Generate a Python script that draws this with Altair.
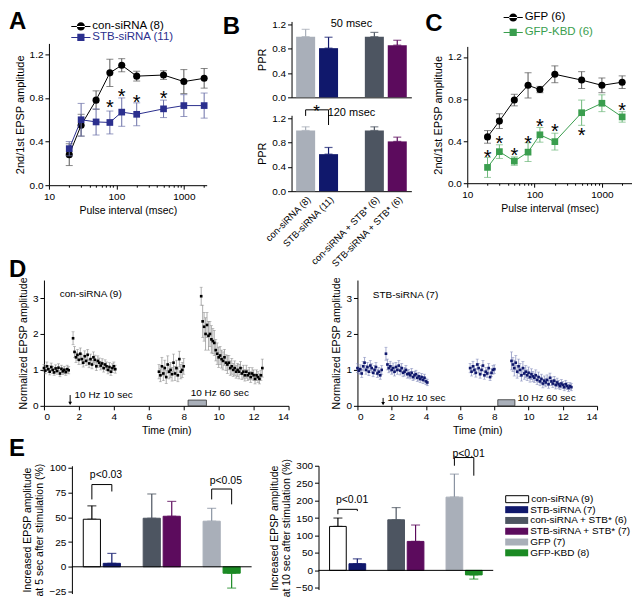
import altair as alt
import pandas as pd

FONT = "Liberation Sans"
NAVY = "#10186C"
NAVY_A = "#2B2F8E"
SLATE = "#4D5561"
PURPLE = "#5C0B5D"
LIGHT = "#A9AFB9"
GREEN_C = "#3A9E4E"
GREEN_E = "#1B8A24"

# ---------------- Panel A ----------------
pulse_intervals = [20, 30, 50, 80, 120, 200, 500, 1000, 2000]
a_con_name = "con-siRNA (8)"
a_con_mean = [0.28, 0.55, 0.78, 1.03, 1.10, 1.00, 1.01, 0.95, 0.98]
a_con_err = [0.10, 0.10, 0.085, 0.125, 0.06, 0.045, 0.04, 0.11, 0.09]
a_stb_name = "STB-siRNA (11)"
a_stb_mean = [0.335, 0.60, 0.58, 0.575, 0.67, 0.65, 0.70, 0.73, 0.73]
a_stb_err = [0.065, 0.15, 0.12, 0.105, 0.13, 0.105, 0.08, 0.10, 0.115]
a_star_x = [80, 120, 200, 500]
a_star_y = [0.75, 0.855, 0.80, 0.84]

# ---------------- Panel C ----------------
c_gfp_name = "GFP (6)"
c_gfp_mean = [0.44, 0.59, 0.79, 0.93, 0.89, 1.035, 0.98, 0.93, 0.96]
c_gfp_err = [0.06, 0.07, 0.055, 0.12, 0.03, 0.08, 0.08, 0.07, 0.06]
c_kbd_name = "GFP-KBD (6)"
c_kbd_mean = [0.15, 0.30, 0.21, 0.295, 0.46, 0.395, 0.67, 0.76, 0.63]
c_kbd_err = [0.095, 0.065, 0.04, 0.09, 0.07, 0.08, 0.12, 0.08, 0.05]
c_star_x = [20, 30, 50, 80, 120, 200, 500, 2000]
c_star_y = [0.29, 0.42, 0.31, 0.42, 0.58, 0.53, 0.50, 0.73]

# ---------------- Panel B ----------------
b_groups = ["con-siRNA (8)", "STB-siRNA (11)", "con-siRNA + STB* (6)", "STB-siRNA + STB* (6)"]
b_domain = [b_groups[0], b_groups[1], " ", b_groups[2], b_groups[3]]
b_colors = [LIGHT, NAVY, SLATE, PURPLE]
b50_mean = [1.00, 0.81, 1.00, 0.86]
b50_err = [0.12, 0.18, 0.07, 0.08]
b120_mean = [1.00, 0.61, 1.00, 0.82]
b120_err = [0.06, 0.11, 0.06, 0.07]
b_titles = ["50 msec", "120 msec"]
b_title_y = [1.21, 1.28]
b_sig = {"c1": [b_groups[0]], "c2": [b_groups[1]], "top": [1.34], "lend": [1.24],
         "rend": [1.09], "label": ["*"], "ly": [1.37]}

# ---------------- Panel D ----------------
d_step = 5 / 60
d_seg_start = [0.0, 1 + 2 / 3, 6 + 7 / 12, 9.0]
d1_name = "con-siRNA (9)"
d1_vals = [
    [1.05, 0.98, 1.10, 1.02, 0.95, 1.08, 1.00, 0.93, 1.04, 0.97, 1.06, 0.90, 1.03, 0.96, 1.00, 0.94, 1.02, 0.99],
    [1.88, 1.50, 1.35, 1.42, 1.28, 1.45, 1.30, 1.20, 1.38, 1.25, 1.42, 1.18, 1.30, 1.15, 1.35, 1.28, 1.10, 1.25,
     1.20, 1.12, 1.18, 1.05, 1.15, 1.10, 1.00, 1.08, 0.95, 1.05, 1.10, 1.02],
    [0.95, 0.85, 1.10, 0.90, 1.05, 0.80, 1.15, 0.95, 1.00, 0.88, 1.20, 0.90, 1.05, 0.85, 1.30, 0.95, 1.00, 1.10],
    [3.05, 2.35, 2.20, 2.00, 2.25, 1.95, 2.00, 1.85, 1.80, 1.75, 1.55, 1.45, 1.35, 1.40, 1.30, 1.25, 1.35, 1.20,
     1.15, 1.20, 1.05, 1.10, 1.00, 1.05, 0.95, 1.00, 0.95, 1.05, 0.90, 0.95, 0.85, 0.95, 0.85, 0.90, 0.80, 0.90,
     0.85, 0.75, 0.85, 0.80, 0.75, 0.85, 1.05],
]
d1_errs = [
    [0.10, 0.09, 0.12, 0.10, 0.09, 0.11, 0.10, 0.08, 0.10, 0.09, 0.11, 0.09, 0.10, 0.09, 0.10, 0.09, 0.11, 0.10],
    [0.18, 0.15, 0.14, 0.15, 0.13, 0.16, 0.14, 0.12, 0.15, 0.13, 0.15, 0.12, 0.14, 0.12, 0.15, 0.13, 0.12, 0.14,
     0.13, 0.12, 0.13, 0.11, 0.13, 0.12, 0.11, 0.12, 0.10, 0.12, 0.12, 0.11],
    [0.20, 0.18, 0.25, 0.20, 0.22, 0.18, 0.24, 0.20, 0.21, 0.19, 0.24, 0.20, 0.22, 0.18, 0.22, 0.20, 0.21, 0.22],
    [0.25, 0.45, 0.40, 0.45, 0.35, 0.40, 0.35, 0.38, 0.35, 0.35, 0.30, 0.30, 0.28, 0.25, 0.25, 0.25, 0.22, 0.22,
     0.25, 0.20, 0.20, 0.22, 0.18, 0.20, 0.18, 0.18, 0.20, 0.18, 0.17, 0.18, 0.16, 0.18, 0.15, 0.17, 0.15, 0.16,
     0.15, 0.14, 0.15, 0.15, 0.14, 0.14, 0.25],
]
d2_name = "STB-siRNA (7)"
d2_vals = [
    [1.05, 0.98, 1.02, 0.90, 1.10, 1.20, 1.00, 1.08, 0.95, 1.12, 1.05, 0.92, 1.00, 1.08, 0.90, 0.95, 0.85, 1.00],
    [1.45, 1.15, 1.05, 1.10, 1.00, 1.05, 0.95, 1.08, 1.00, 1.12, 0.98, 1.05, 0.92, 0.95, 1.00, 0.88, 0.90, 0.85,
     0.92, 0.80, 0.85, 0.88, 0.78, 0.82, 0.75, 0.80, 0.72, 0.78, 0.68, 0.65],
    [1.05, 0.95, 1.10, 1.00, 0.92, 1.15, 1.05, 0.88, 1.00, 1.12, 0.85, 0.95, 0.90, 1.05, 0.80, 0.92, 1.00, 1.02],
    [1.25, 1.15, 1.05, 1.20, 0.95, 1.10, 1.00, 0.85, 1.05, 0.90, 0.95, 0.85, 0.92, 0.80, 0.88, 0.82, 0.78, 0.85,
     0.72, 0.80, 0.68, 0.75, 0.62, 0.70, 0.65, 0.72, 0.60, 0.78, 0.68, 0.62, 0.70, 0.58, 0.65, 0.60, 0.55, 0.62,
     0.58, 0.52, 0.60, 0.55, 0.50, 0.55, 0.52],
]
d2_errs = [
    [0.12, 0.10, 0.12, 0.11, 0.13, 0.15, 0.12, 0.13, 0.11, 0.14, 0.12, 0.11, 0.12, 0.13, 0.11, 0.12, 0.11, 0.12],
    [0.18, 0.15, 0.13, 0.14, 0.12, 0.14, 0.12, 0.13, 0.12, 0.14, 0.12, 0.13, 0.11, 0.12, 0.12, 0.11, 0.11, 0.10,
     0.12, 0.10, 0.11, 0.11, 0.10, 0.11, 0.10, 0.10, 0.10, 0.10, 0.09, 0.09],
    [0.13, 0.12, 0.14, 0.12, 0.12, 0.15, 0.13, 0.11, 0.12, 0.14, 0.11, 0.12, 0.11, 0.13, 0.10, 0.11, 0.12, 0.12],
    [0.25, 0.20, 0.22, 0.20, 0.18, 0.20, 0.18, 0.16, 0.18, 0.16, 0.17, 0.15, 0.16, 0.14, 0.15, 0.14, 0.13, 0.15,
     0.13, 0.14, 0.12, 0.13, 0.12, 0.13, 0.12, 0.14, 0.11, 0.13, 0.12, 0.11, 0.12, 0.11, 0.12, 0.11, 0.10, 0.11,
     0.10, 0.10, 0.11, 0.10, 0.10, 0.10, 0.10],
]
# annotations: [label_t, label_y, arrow_t, arrow_top, arrow_tip, stim_t0, stim_t1, stim_h, stim_text_t, stim_text_y]
d1_annot = [0.9, 3.12, 1.5, 0.30, 0.07, 8.25, 9.3, 0.16, 8.4, 0.36]
d2_annot = [0.9, 3.08, 1.5, 0.22, 0.06, 8.2, 9.2, 0.17, 9.35, 0.22]
d_stim1 = "10 Hz 10 sec"
d_stim2 = "10 Hz 60 sec"

# ---------------- Panel E ----------------
e_groups = ["con-siRNA (9)", "STB-siRNA (7)", "con-siRNA + STB* (6)", "STB-siRNA + STB* (7)", "GFP (7)", "GFP-KBD (8)"]
e_domain = [e_groups[0], e_groups[1], "g1", e_groups[2], e_groups[3], "g2", e_groups[4], e_groups[5]]
e_fill = ["#FFFFFF", NAVY, SLATE, PURPLE, LIGHT, GREEN_E]
e_stroke = ["#000000", NAVY, SLATE, PURPLE, LIGHT, GREEN_E]
e_errcol = ["#000000", NAVY, SLATE, PURPLE, "#8A93A2", GREEN_E]
e5_mean = [48, 3.5, 49, 51, 46, -6.5]
e5_err = [13.5, 10, 24.5, 15, 13, 15]
e10_mean = [126, 19, 145, 83, 210, -13]
e10_err = [24, 14, 35, 47, 66, 12]
e5_sig = {"c1": [e_groups[0], e_groups[4]], "c2": [e_groups[1], e_groups[5]], "top": [83, 78.5],
          "lend": [68, 68], "rend": [76, 63], "label": ["p<0.03", "p<0.05"], "ly": [92.5, 87]}
e10_sig = {"c1": [e_groups[0], e_groups[4]], "c2": [e_groups[1], e_groups[5]], "top": [175, 323.5],
           "lend": [161, 300], "rend": [170, 271.5], "label": ["p<0.01", "p<0.01"], "ly": [203, 334]}

CIRCLE_LINE = "M-1.6,-0.09L1.6,-0.09L1.6,0.09L-1.6,0.09Z M-0.68,0A0.68,0.68 0 1 0 0.68,0A0.68,0.68 0 1 0 -0.68,0Z"
SQUARE_LINE = "M-1.6,-0.09L1.6,-0.09L1.6,0.09L-1.6,0.09Z M-0.6,-0.6L0.6,-0.6L0.6,0.6L-0.6,0.6Z"
RECT = "M-2.3,-0.7L2.3,-0.7L2.3,0.7L-2.3,0.7Z"


def letter(text, dx, offset):
    return alt.TitleParams(text, anchor="start", frame="group", fontSize=24, fontWeight="bold",
                           dx=dx, offset=offset, font=FONT)


def spacer(w=1, h=1):
    return alt.Chart(pd.DataFrame({"s": [0]})).mark_point(size=0, opacity=0).encode(
        x=alt.value(0), y=alt.value(0)).properties(width=w, height=h)


def legend_cell(width, height, entries, title=None):
    # entries: (names, colors, filled, symbol, size, legendX, legendY, labelColor, fontSize, labelOffset)
    layers = []
    for names, cols, filled, path, size, lx, ly, lc, fs, lo in entries:
        layers.append(
            alt.Chart(pd.DataFrame({"g": names})).mark_point(filled=filled, opacity=0).encode(
                x=alt.value(0), y=alt.value(0),
                color=alt.Color("g:N", scale=alt.Scale(domain=names, range=cols),
                                legend=alt.Legend(title=None, orient="none", legendX=lx, legendY=ly,
                                                  symbolType=path, symbolSize=size, symbolOpacity=1,
                                                  symbolStrokeWidth=(1 if not filled else 0),
                                                  labelColor=lc, labelFontSize=fs, labelOffset=lo,
                                                  rowPadding=0.8, padding=0))))
    ch = alt.layer(*layers).resolve_scale(color="independent").properties(width=width, height=height)
    if title is not None:
        ch = ch.properties(title=title)
    return ch


def pulse_plot(series, star_x, star_y, width, height, xmax):
    ticks = [10, 20, 30, 40, 50, 60, 70, 80, 90, 100, 200, 300, 400, 500, 600, 700, 800, 900, 1000, 2000]
    major = "datum.value == 10 || datum.value == 100 || datum.value == 1000"
    xs = alt.Scale(type="log", domain=[10, xmax], nice=False)
    xaxis = alt.Axis(values=ticks, format="d", labelExpr=f"({major}) ? datum.label : ''",
                     tickSize={"condition": {"test": major, "value": 4}, "value": 2},
                     title="Pulse interval  (msec)", labelFlush=False)
    ys = alt.Scale(domain=[0, 1.3], nice=False)
    yaxis = alt.Axis(values=[0, 0.4, 0.8, 1.2], format=".1f", title="2nd/1st EPSP amplitude",
                     titleFontSize=11)
    layers = []
    for means, errs, col, errcol, shape, size in series:
        df = pd.DataFrame({"x": pulse_intervals, "m": means,
                           "lo": [m - e for m, e in zip(means, errs)],
                           "hi": [m + e for m, e in zip(means, errs)]})
        X = alt.X("x:Q", scale=xs, axis=xaxis)
        layers.append(alt.Chart(df).mark_errorbar(ticks=True, size=7, thickness=1, color=errcol).encode(
            x=X, y=alt.Y("lo:Q", scale=ys, axis=yaxis), y2="hi:Q"))
        layers.append(alt.Chart(df).mark_line(color=col, strokeWidth=1).encode(
            x=X, y=alt.Y("m:Q", scale=ys, axis=yaxis)))
        layers.append(alt.Chart(df).mark_point(filled=True, opacity=1, shape=shape, size=size, color=col).encode(
            x=X, y=alt.Y("m:Q", scale=ys, axis=yaxis)))
    sdf = pd.DataFrame({"x": star_x, "m": star_y})
    layers.append(alt.Chart(sdf).mark_text(text="*", fontSize=20, dy=11, baseline="alphabetic",
                                           color="black").encode(
        x=alt.X("x:Q", scale=xs, axis=xaxis), y=alt.Y("m:Q", scale=ys, axis=yaxis)))
    return alt.layer(*layers).properties(width=width, height=height)


def bracket(sig, xs, xaxis, ys, yaxis, star=False):
    sdf = pd.DataFrame(sig)
    Xa = alt.X("c1:N", scale=xs, axis=xaxis)
    Xb = alt.X("c2:N", scale=xs, axis=xaxis)
    out = [
        alt.Chart(sdf).mark_rule(color="black", strokeWidth=1).encode(
            x=Xa, x2="c2:N", y=alt.Y("top:Q", scale=ys, axis=yaxis)),
        alt.Chart(sdf).mark_rule(color="black", strokeWidth=1).encode(
            x=Xa, y=alt.Y("top:Q", scale=ys, axis=yaxis), y2="lend:Q"),
        alt.Chart(sdf).mark_rule(color="black", strokeWidth=1).encode(
            x=Xb, y=alt.Y("top:Q", scale=ys, axis=yaxis), y2="rend:Q"),
    ]
    if star:
        out.append(alt.Chart(sdf).mark_text(fontSize=17, dx=11, dy=9, baseline="alphabetic",
                                            color="black").encode(
            x=Xa, y=alt.Y("ly:Q", scale=ys, axis=yaxis), text="label:N"))
    else:
        out.append(alt.Chart(sdf).mark_text(fontSize=10.5, align="left", dx=-2, baseline="middle",
                                            color="black").encode(
            x=Xa, y=alt.Y("ly:Q", scale=ys, axis=yaxis), text="label:N"))
    return out


def b_plot(means, errs, show_labels, height, title_idx, sig=None, panel_letter=None):
    df = pd.DataFrame({"g": b_groups, "m": means, "hi": [m + e for m, e in zip(means, errs)]})
    xs = alt.Scale(domain=b_domain, paddingInner=0.17, paddingOuter=0.2)
    xaxis = alt.Axis(values=b_groups, labelAngle=-45, labels=show_labels, ticks=False, title=None,
                     labelFontSize=9.5, labelPadding=3)
    ys = alt.Scale(domain=[0, 1.25], nice=False)
    yaxis = alt.Axis(values=[0, 0.4, 0.8, 1.2], format=".1f", title="PPR", titleFontSize=11)
    X = alt.X("g:N", scale=xs, axis=xaxis)
    col = alt.Color("g:N", scale=alt.Scale(domain=b_groups, range=b_colors), legend=None)
    layers = [
        alt.Chart(df).mark_errorbar(ticks=True, size=8, thickness=1.2).encode(
            x=X, y=alt.Y("m:Q", scale=ys, axis=yaxis), y2="hi:Q", color=col),
        alt.Chart(df).mark_bar().encode(x=X, y=alt.Y("m:Q", scale=ys, axis=yaxis), color=col),
    ]
    tdf = pd.DataFrame({"g": [" "], "m": [b_title_y[title_idx]], "t": [b_titles[title_idx]]})
    layers.append(alt.Chart(tdf).mark_text(fontSize=11, baseline="middle", color="black").encode(
        x=X, y=alt.Y("m:Q", scale=ys, axis=yaxis), text="t:N"))
    if sig is not None:
        layers += bracket(sig, xs, xaxis, ys, yaxis, star=True)
    if panel_letter is not None:
        # panel label, placed beside the top-left corner of the panel
        layers.append(alt.Chart(pd.DataFrame({"s": [panel_letter]})).mark_text(
            align="left", baseline="alphabetic", fontSize=24, fontWeight="bold", color="black").encode(
            x=alt.value(-69), y=alt.value(13), text="s:N"))
    return alt.layer(*layers).properties(width=120, height=height)


def d_plot(vals, errs, color, errcolor, name, annot, xtitle, width, height, title=None):
    ts, vs, es = [], [], []
    for start, seg, eseg in zip(d_seg_start, vals, errs):
        ts += [round(start + i * d_step, 4) for i in range(len(seg))]
        vs += seg
        es += eseg
    df = pd.DataFrame({"t": ts, "v": vs, "lo": [v - e for v, e in zip(vs, es)],
                       "hi": [v + e for v, e in zip(vs, es)]})
    xs = alt.Scale(domain=[0, 14], nice=False)
    xaxis = alt.Axis(values=list(range(0, 15, 2)), title=xtitle)
    ys = alt.Scale(domain=[0, 3.5], nice=False)
    yaxis = alt.Axis(values=[0, 1, 2, 3], title="Normalized EPSP amplitude")
    X = alt.X("t:Q", scale=xs, axis=xaxis)

    def Y(f):
        return alt.Y(f, scale=ys, axis=yaxis)

    lt, ly, at, atop, atip, s0, s1, sh, stt, sty = annot
    layers = [
        alt.Chart(df).mark_errorbar(ticks=True, size=3, thickness=0.7, color=errcolor).encode(
            x=X, y=Y("lo:Q"), y2="hi:Q"),
        alt.Chart(df).mark_point(filled=True, shape="square", size=7, opacity=1, color=color).encode(
            x=X, y=Y("v:Q")),
        alt.Chart(pd.DataFrame({"t": [lt], "v": [ly], "s": [name]})).mark_text(
            align="left", baseline="middle", fontSize=10, color="black").encode(x=X, y=Y("v:Q"), text="s:N"),
        alt.Chart(pd.DataFrame({"t": [at], "v": [atop], "v2": [atip]})).mark_rule(
            color="black", strokeWidth=1).encode(x=X, y=Y("v:Q"), y2="v2:Q"),
        alt.Chart(pd.DataFrame({"t": [at], "v": [atip]})).mark_point(
            shape="triangle-down", filled=True, size=14, opacity=1, color="black").encode(x=X, y=Y("v:Q")),
        alt.Chart(pd.DataFrame({"t": [at + 0.25], "v": [atop], "s": [d_stim1]})).mark_text(
            align="left", baseline="middle", fontSize=10, color="black").encode(x=X, y=Y("v:Q"), text="s:N"),
        alt.Chart(pd.DataFrame({"t": [s0], "t2": [s1], "v": [0.0], "v2": [sh]})).mark_rect(
            fill=LIGHT, stroke="#333333", strokeWidth=0.8).encode(x=X, x2="t2:Q", y=Y("v:Q"), y2="v2:Q"),
        alt.Chart(pd.DataFrame({"t": [stt], "v": [sty], "s": [d_stim2]})).mark_text(
            align="left", baseline="middle", fontSize=10, color="black").encode(x=X, y=Y("v:Q"), text="s:N"),
    ]
    ch = alt.layer(*layers).properties(width=width, height=height)
    if title is not None:
        ch = ch.properties(title=title)
    return ch


def e_plot(means, errs, ydom, yvals, ytitle, sig, width, height, title=None):
    tips = [m + (e if m >= 0 else -e) for m, e in zip(means, errs)]
    df = pd.DataFrame({"g": e_groups, "m": means, "tip": tips})
    xs = alt.Scale(domain=e_domain, paddingInner=0.14, paddingOuter=0.57)
    X = alt.X("g:N", scale=xs, axis=None)
    ys = alt.Scale(domain=ydom, nice=False, zero=False)
    yaxis = alt.Axis(values=yvals, title=ytitle, titleFontSize=10.5, titleLineHeight=12.5)
    layers = [
        alt.Chart(df).mark_errorbar(ticks=True, size=9, thickness=1.2).encode(
            x=X, y=alt.Y("m:Q", scale=ys, axis=yaxis), y2="tip:Q",
            color=alt.Color("g:N", scale=alt.Scale(domain=e_groups, range=e_errcol), legend=None)),
        alt.Chart(df).mark_bar(strokeWidth=1).encode(
            x=X, y=alt.Y("m:Q", scale=ys, axis=yaxis),
            fill=alt.Fill("g:N", scale=alt.Scale(domain=e_groups, range=e_fill), legend=None),
            stroke=alt.Stroke("g:N", scale=alt.Scale(domain=e_groups, range=e_stroke), legend=None)),
        alt.Chart(pd.DataFrame({"z": [0]})).mark_rule(color="black", strokeWidth=1).encode(
            y=alt.Y("z:Q", scale=ys, axis=yaxis)),
    ]
    layers += bracket(sig, xs, None, ys, yaxis, star=False)
    ch = alt.layer(*layers).properties(width=width, height=height)
    if title is not None:
        ch = ch.properties(title=title)
    return ch


def ind(ch):
    return ch.resolve_scale(color="independent", fill="independent", stroke="independent")


# ---------------- assemble ----------------
spA = legend_cell(158, 32,
                  [([a_con_name], ["#000000"], True, CIRCLE_LINE, 144, 26, 9, "#000000", 11.5, 5.5),
                   ([a_stb_name], [NAVY_A], True, SQUARE_LINE, 144, 26, 20, NAVY_A, 11.5, 5.5)],
                  title=letter("A", -40, -25))
A = pulse_plot([(a_con_mean, a_con_err, "#000000", "#555555", "circle", 50),
                (a_stb_mean, a_stb_err, NAVY_A, "#6B70A8", "square", 45)],
               a_star_x, a_star_y, 158, 142, 2180)
spC = legend_cell(165, 35,
                  [([c_gfp_name], ["#000000"], True, CIRCLE_LINE, 144, 40, 0, "#000000", 11.5, 5.5),
                   ([c_kbd_name], [GREEN_C], True, SQUARE_LINE, 144, 40, 15, GREEN_C, 11.5, 5.5)],
                  title=letter("C", -42, -27))
C = pulse_plot([(c_gfp_mean, c_gfp_err, "#000000", "#555555", "circle", 50),
                (c_kbd_mean, c_kbd_err, GREEN_C, "#6DB87A", "square", 45)],
               c_star_x, c_star_y, 165, 137, 2800)
B50 = b_plot(b50_mean, b50_err, False, 76, 0, panel_letter="B")
B120 = b_plot(b120_mean, b120_err, True, 76, 1, sig=b_sig)

colA = ind(alt.vconcat(spA, A, spacing=0))
colB = ind(alt.vconcat(spacer(120, 4), B50, B120, spacing=0))
colC = ind(alt.vconcat(spC, C, spacing=0))
row1 = ind(alt.hconcat(spacer(), ind(alt.hconcat(colA, colB, colC, spacing=14)), spacing=0))

D1 = d_plot(d1_vals, d1_errs, "#000000", "#8A8A8A", d1_name, d1_annot, "Time (min)", 245, 126,
            title=letter("D", -35, -5))
D2 = d_plot(d2_vals, d2_errs, NAVY, "#7E86B8", d2_name, d2_annot, "Time  (min)", 240, 126)
row2 = ind(alt.hconcat(spacer(), ind(alt.hconcat(D1, D2, spacing=42)), spacing=0))

E1 = e_plot(e5_mean, e5_err, [-27, 102], [-25, 0, 25, 50, 75, 100],
            ["Increased EPSP amplitude", "at 5 sec after stimulation (%)"], e5_sig, 180, 128,
            title=letter("E", -63, 2))
E2 = e_plot(e10_mean, e10_err, [-55, 300], [-50, 0, 50, 100, 150, 200, 250, 300],
            ["Increased EPSP amplitude", "at 10 sec after stimulation (%)"], e10_sig, 175, 124)
LEG = legend_cell(1, 1,
                  [([e_groups[0]], ["#000000"], False, RECT, 100, 6.5, 28, "#000000", 10, 8.5),
                   (e_groups[1:], e_fill[1:], True, RECT, 100, 6.5, 39, "#000000", 10, 8.5)])
row3 = ind(alt.hconcat(spacer(), ind(alt.hconcat(ind(alt.hconcat(E1, E2, spacing=16)), LEG, spacing=8)),
                       spacing=0))

chart = ind(alt.vconcat(row1, ind(alt.vconcat(row2, row3, spacing=-1)), spacing=-12)).properties(
    padding=0
).configure(font=FONT).configure_view(stroke=None).configure_axis(
    labelFont=FONT, titleFont=FONT, labelFontSize=10, titleFontSize=10.5, titleFontWeight="normal",
    domainColor="black", tickColor="black", labelColor="black", titleColor="black", grid=False,
    tickSize=4, labelPadding=2, titlePadding=4
).configure_legend(labelFont=FONT).configure_title(font=FONT)

chart.save("out.html", embed_options={"renderer": "svg", "actions": False})
